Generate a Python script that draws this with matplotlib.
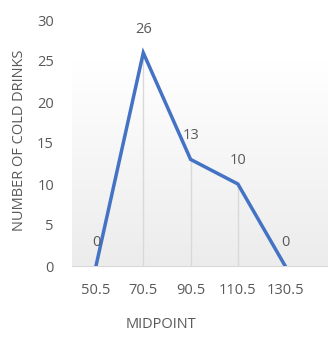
import numpy as np
import matplotlib
matplotlib.use("Agg")
import matplotlib.pyplot as plt

# frequency polygon of cold drinks
midpoints = ["50.5", "70.5", "90.5", "110.5", "130.5"]
counts = [0, 26, 13, 10, 0]

plt.rcParams['font.family'] = ['Open Sans', 'DejaVu Sans']
txt = '#595959'
blue = '#4472C4'

fig = plt.figure(figsize=(3.28, 3.44), dpi=100)
ax = fig.add_axes([72/328, 78/344, 256/328, 246/344])

x = np.arange(len(midpoints))

# soft gradient in the plot area, white on top to light gray at bottom
grad = np.linspace(0, 1, 256).reshape(-1, 1)
cmap = matplotlib.colors.LinearSegmentedColormap.from_list('g', ['#ececec', '#ffffff'])
ax.imshow(grad, aspect='auto', cmap=cmap, origin='lower',
          extent=(-0.507, 4.905, 0, 25), zorder=0)

# drop lines
ax.vlines(x, 0, counts, color='#d9d9d9', lw=1, zorder=1)
ax.plot(x, counts, color=blue, lw=2.5, solid_joinstyle='miter', zorder=3)

for xi, c in zip(x, counts):
    ax.annotate(str(c), (xi, c), xytext=(0, 17), textcoords='offset points',
                ha='center', va='center', fontsize=10.5, color=txt)

ax.set_xlim(-0.507, 4.905)
ax.set_ylim(0, 30)
ax.set_yticks([0, 5, 10, 15, 20, 25, 30])
ax.set_xticks(x)
ax.set_xticklabels(midpoints)
for s in ['top', 'right', 'left']:
    ax.spines[s].set_visible(False)
ax.spines['bottom'].set_color('#d9d9d9')
ax.tick_params(axis='both', length=0, labelsize=10.5, labelcolor=txt)
ax.tick_params(axis='x', pad=12)
ax.tick_params(axis='y', pad=13)

fig.text(161/328, 1 - 324/344, 'MIDPOINT', ha='center', va='center',
         fontsize=10.5, color=txt)
fig.text(20/328, 1 - 140/344, 'NUMBER OF COLD DRINKS', ha='center', va='center',
         rotation=90, fontsize=10.5, color=txt)

fig.savefig('out.png', dpi=100)
